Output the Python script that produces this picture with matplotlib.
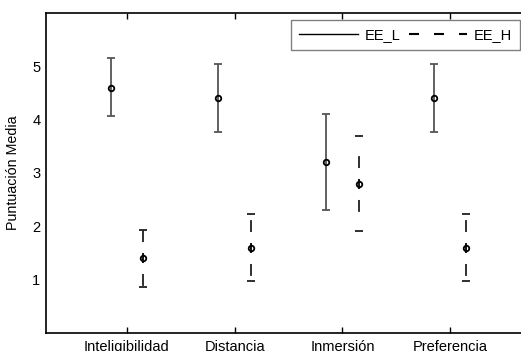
import numpy as np
import matplotlib
matplotlib.use("Agg")
import matplotlib.pyplot as plt
from matplotlib.collections import LineCollection
from matplotlib.lines import Line2D

plt.rcParams['font.family'] = ['Liberation Sans', 'DejaVu Sans']

categorias = ['Inteligibilidad', 'Distancia', 'Inmersión', 'Preferencia']

# EE_L
media_l = [4.6, 4.4, 3.2, 4.4]
bajo_l = [4.07, 3.77, 2.30, 3.77]
alto_l = [5.15, 5.05, 4.10, 5.05]

# EE_H
media_h = [1.4, 1.6, 2.8, 1.6]
bajo_h = [0.87, 0.97, 1.92, 0.97]
alto_h = [1.93, 2.23, 3.70, 2.23]

x = np.arange(1, len(categorias) + 1)
xl = x - 0.15
xh = x + 0.15

fig = plt.figure(figsize=(5.21, 3.51), dpi=100)
ax = fig.add_axes([46 / 521, 18 / 351, 485 / 521, 320 / 351])

ml = np.array(media_l)
mh = np.array(media_h)

eb = ax.errorbar(xl, ml, yerr=[ml - np.array(bajo_l), np.array(alto_l) - ml],
                 fmt='o', color='k', mfc='none', ms=4, mew=1.3,
                 ecolor='#555555', elinewidth=1.3, capsize=3, capthick=1.3)
for c in eb[1]:
    c.set_color('k')

eb2 = ax.errorbar(xh, mh, yerr=[mh - np.array(bajo_h), np.array(alto_h) - mh],
                  fmt='o', color='k', mfc='none', ms=4, mew=1.3,
                  ecolor='#202020', elinewidth=1.3, capsize=3, capthick=1.3)
for c in eb2[1]:
    c.set_color('k')
for lc in eb2[2]:
    lc.set_visible(False)
ax.plot(xh, mh, '|', color='k', ms=7, mew=1.3)

segs = []
for xi, m, lo, hi in zip(xh, media_h, bajo_h, alto_h):
    segs.append([(xi, m), (xi, hi)])
    segs.append([(xi, m), (xi, lo)])
lw = 1.3
ax.add_collection(LineCollection(segs, colors='#202020', linewidths=lw,
                                 linestyles=[(11.5 / lw, (8.6 / lw, 14.4 / lw))]))

ax.set_xlim(0.25, 4.75)
ax.set_ylim(0, 6)
ax.set_xticks(x)
ax.set_xticklabels(categorias)
ax.set_yticks([1, 2, 3, 4, 5])
ax.tick_params(axis='x', direction='in', top=True, length=4, width=1, pad=5, labelsize=10.5)
ax.tick_params(axis='y', length=0, pad=4, labelsize=10.5)
for s in ax.spines.values():
    s.set_linewidth(1.2)

ax.set_ylabel('Puntuación Media', fontsize=10.3)
ax.yaxis.set_label_coords(-0.054, 0.5)

handles = [Line2D([], [], color='k', lw=1),
           Line2D([], [], color='k', lw=1.5, linestyle=(0, (7.2 / 1.5, 10.8 / 1.5)))]
leg = ax.legend(handles, ['EE_L', 'EE_H'], ncol=2, fontsize=10.5,
                loc='upper right', bbox_to_anchor=(520 / 521, 1 - 20 / 351),
                bbox_transform=fig.transFigure, fancybox=False, framealpha=1,
                handlelength=4, columnspacing=0.6, handletextpad=0.45,
                borderpad=0.55, borderaxespad=0)
leg.get_frame().set_edgecolor('#808080')
leg.get_frame().set_linewidth(1)

fig.savefig('out.png', dpi=100)
